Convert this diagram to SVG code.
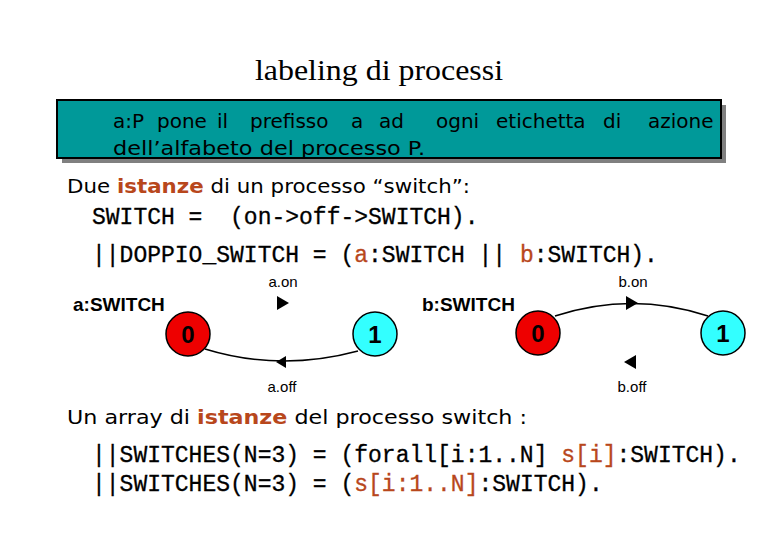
<svg xmlns="http://www.w3.org/2000/svg" width="780" height="540" viewBox="0 0 780 540">
<style>
.title{font-family:"Liberation Serif",serif;font-size:30px;fill:#000}
.body{font-family:"DejaVu Sans",sans-serif;font-size:20px;fill:#000}
.bw{font-family:"DejaVu Sans",sans-serif;font-size:20px;fill:#000}
.hl{fill:#b8471c;font-weight:bold}
.code{font-family:"Liberation Mono",monospace;font-size:23px;fill:#000;stroke:#000;stroke-width:0.3}
.chl{fill:#b8471c;stroke:#b8471c}
.lbl{font-family:"Liberation Sans",Arial,sans-serif;font-size:19px;font-weight:bold;fill:#000}
.act{font-family:"Liberation Sans",Arial,sans-serif;font-size:15px;fill:#000;text-anchor:middle}
.st{stroke:#000;stroke-width:1.5}
.s0{fill:#ee0000}
.s1{fill:#33ffff}
.num{font-family:"Liberation Sans",Arial,sans-serif;font-size:24px;font-weight:bold;fill:#000;text-anchor:middle}
.edge{fill:none;stroke:#000;stroke-width:1.5}
</style>
<rect width="780" height="540" fill="#fff"/>
<text class="title" x="255" y="80" textLength="248" lengthAdjust="spacingAndGlyphs">labeling di processi</text>
<g id="box">
<rect x="62" y="105" width="664" height="58" fill="#808080"/>
<rect x="57" y="100" width="664" height="58" fill="#009999" stroke="#000" stroke-width="2"/>
<text class="bw" y="128"><tspan x="113">a:P</tspan> <tspan x="157">pone</tspan> <tspan x="217">il</tspan> <tspan x="250">prefisso</tspan> <tspan x="351">a</tspan> <tspan x="379">ad</tspan> <tspan x="436">ogni</tspan> <tspan x="496">etichetta</tspan> <tspan x="603">di</tspan> <tspan x="648">azione</tspan></text>
<text class="body" x="113" y="155" textLength="312" lengthAdjust="spacingAndGlyphs">dell’alfabeto del processo P.</text>
</g>
<text class="body" x="67" y="193" textLength="403" lengthAdjust="spacingAndGlyphs">Due <tspan class="hl">istanze</tspan> di un processo “switch”:</text>
<text class="code" x="92" y="224" xml:space="preserve">SWITCH =  (on-&gt;off-&gt;SWITCH).</text>
<text class="code" x="92" y="262">||DOPPIO_SWITCH = (<tspan class="chl">a</tspan>:SWITCH || <tspan class="chl">b</tspan>:SWITCH).</text>
<g id="connectors">
<path class="edge" d="M358,351 Q280,372 205,349"/>
<path d="M276,362 l10,-6 l0,12 z" fill="#000"/>
<path d="M289,303 l-12,-7 l0,14 z" fill="#000"/>
<path class="edge" d="M555,316 Q632,291 708,316"/>
<path d="M638,303 l-12,-7 l0,14 z" fill="#000"/>
<path d="M624,362 l12,-7 l0,14 z" fill="#000"/>
</g>
<text class="lbl" x="73" y="311">a:SWITCH</text>
<text class="act" x="283" y="287">a.on</text>
<text class="act" x="282" y="392">a.off</text>
<g id="a0"><circle class="st s0" cx="188" cy="334" r="22"/><text class="num" x="188" y="343">0</text></g>
<g id="a1"><circle class="st s1" cx="375" cy="334" r="22"/><text class="num" x="375" y="343">1</text></g>
<text class="lbl" x="422" y="311">b:SWITCH</text>
<text class="act" x="633" y="287">b.on</text>
<text class="act" x="632" y="392">b.off</text>
<g id="b0"><circle class="st s0" cx="538" cy="333" r="22"/><text class="num" x="538" y="342">0</text></g>
<g id="b1"><circle class="st s1" cx="723" cy="333" r="22"/><text class="num" x="723" y="342">1</text></g>
<text class="body" x="67" y="424" textLength="460" lengthAdjust="spacingAndGlyphs">Un array di <tspan class="hl">istanze</tspan> del processo switch :</text>
<text class="code" x="92" y="462">||SWITCHES(N=3) = (forall[i:1..N] <tspan class="chl">s[i]</tspan>:SWITCH).</text>
<text class="code" x="92" y="491">||SWITCHES(N=3) = (<tspan class="chl">s[i:1..N]</tspan>:SWITCH).</text>
</svg>
